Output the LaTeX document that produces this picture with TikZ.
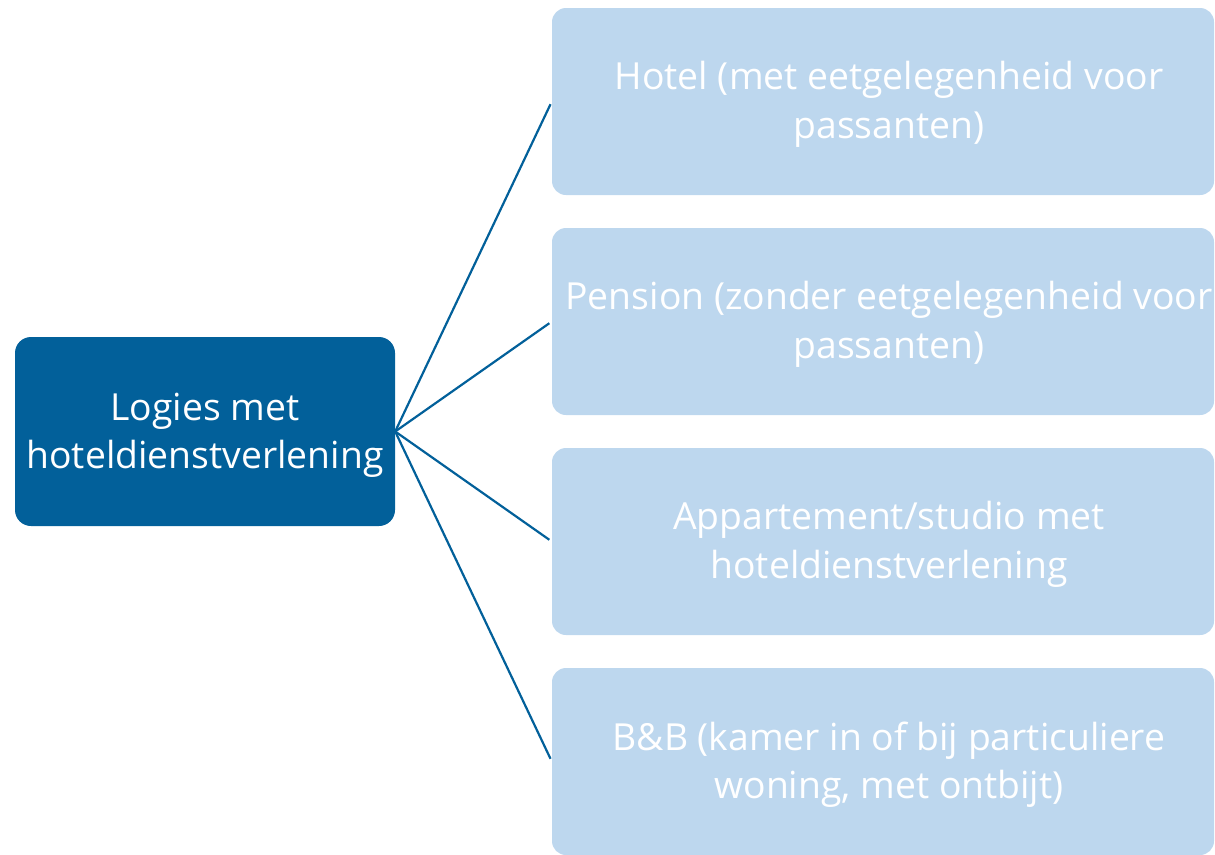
\documentclass[tikz,border=0pt]{standalone}
\usepackage{fontspec}
\setmainfont{Open Sans}
\definecolor{darkblue}{HTML}{02609A}
\definecolor{lightblue}{HTML}{BDD7EE}
\begin{document}
\begin{tikzpicture}[x=1pt,y=-1pt,
  mainbox/.style={fill=darkblue, draw=none, rounded corners=16pt, minimum width=380pt, minimum height=189pt, inner sep=0pt},
  subbox/.style={fill=lightblue, draw=none, rounded corners=14pt, minimum width=662pt, minimum height=187pt, inner sep=0pt},
  txt/.style={text=white, align=center, font=\fontsize{37.3}{48.5}\selectfont, inner sep=0pt},
  conn/.style={draw=darkblue, line width=2.2pt, shorten >=3pt}]
\useasboundingbox (0,0) rectangle (1215,854);
\node[mainbox] (a) at (205,431.5) {};
\node[txt] (at) at ([yshift=-4pt]a.center) {Logies met\\hoteldienstverlening};
\node[subbox] (b1) at (883,101.5) {};
\node[subbox] (b2) at (883,321.5) {};
\node[subbox] (b3) at (883,541.5) {};
\node[subbox] (b4) at (883,761.5) {};
\node[txt] (t1) at ([xshift=6pt,yshift=-3pt]b1.center) {Hotel (met eetgelegenheid voor\\passanten)};
\node[txt] (t2) at ([xshift=6pt,yshift=-3pt]b2.center) {Pension (zonder eetgelegenheid voor\\passanten)};
\node[txt] (t3) at ([xshift=6pt,yshift=-3pt]b3.center) {Appartement/studio met\\hoteldienstverlening};
\node[txt] (t4) at ([xshift=6pt,yshift=-3pt]b4.center) {B\&B (kamer in of bij particuliere\\woning, met ontbijt)};
\foreach \b in {b1,b2,b3,b4} \draw[conn] (a.east) -- (\b.west);
\end{tikzpicture}
\end{document}
